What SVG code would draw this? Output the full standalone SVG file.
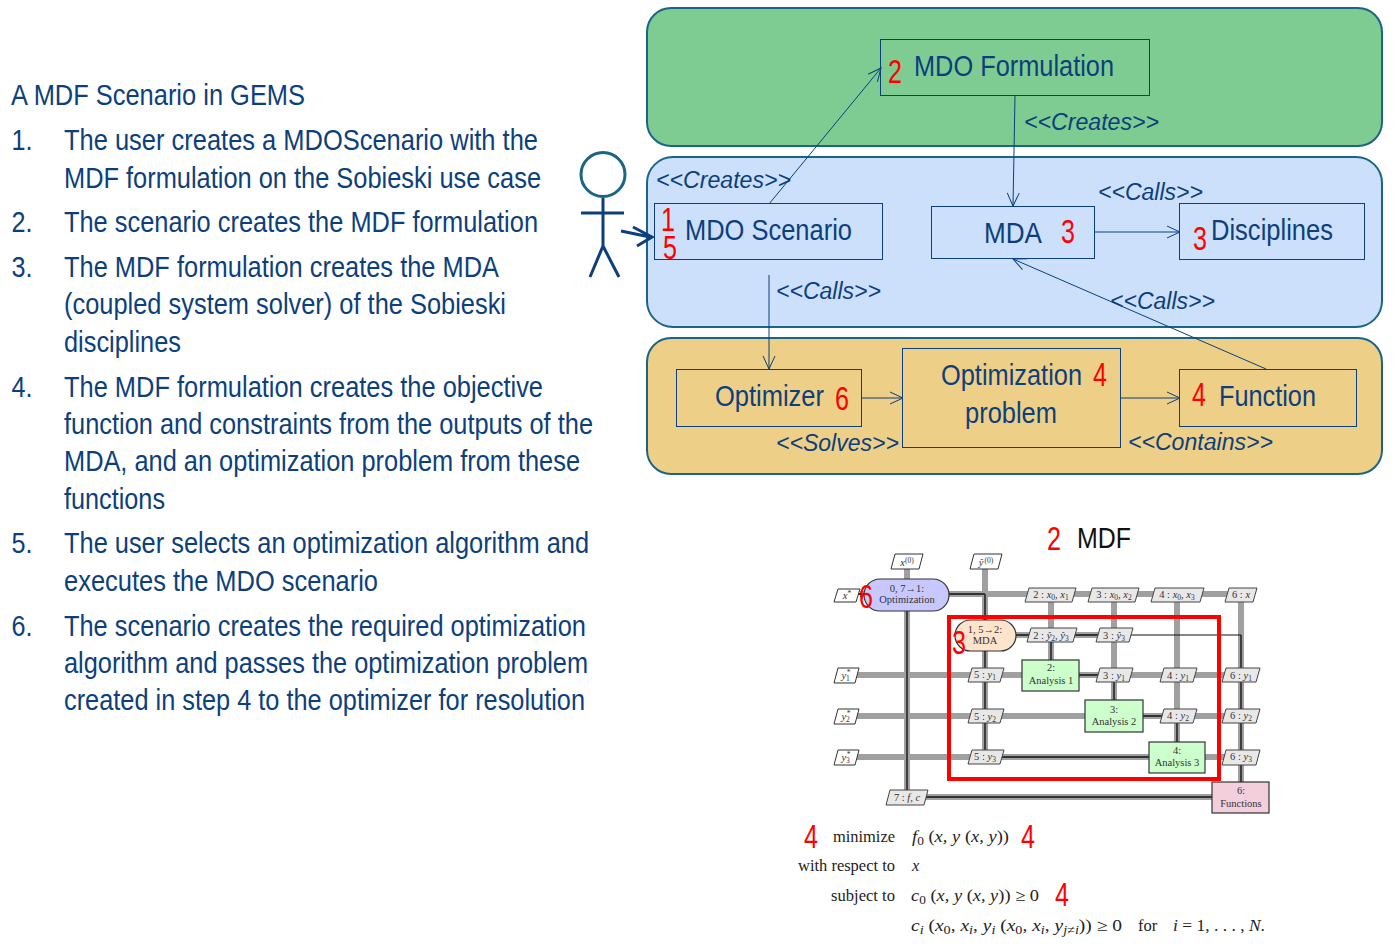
<svg xmlns="http://www.w3.org/2000/svg" width="1396" height="951" viewBox="0 0 1396 951">
<style>
text{font-family:"Liberation Sans",Arial,sans-serif}
.t{font-size:29px;fill:#0c3f7c}
.n{font-size:30px;fill:#0c3f7c}
.c{font-size:23.5px;font-style:italic;fill:#0c3f7c}
.r{font-size:33px;fill:#f00}
.panel{stroke:#1a6486;stroke-width:2}
.box{fill:none;stroke:#0c3f7c;stroke-width:1}
.ln{stroke:#0c3f7c;stroke-width:1;fill:none;marker-end:url(#v)}
.g{stroke:#a0a0a0;stroke-width:6;fill:none}
.k{stroke:#333;stroke-width:1.8;fill:none}
.bl{stroke:#333;stroke-width:1.2}
.lab{stroke:#444;stroke-width:1;fill:#e8e8e8}
.io{stroke:#333;stroke-width:1;fill:#fff}
.m{font-family:"Liberation Serif",serif;font-size:10.5px;fill:#333;text-anchor:middle}
.i{font-style:italic}
.s{font-size:7.5px}
.f{font-family:"Liberation Serif",serif;font-size:16.5px;fill:#222}
</style>
<defs>
<marker id="v" markerWidth="16" markerHeight="14" refX="14" refY="7" orient="auto" markerUnits="userSpaceOnUse"><path d="M1 1L14 7L1 13" fill="none" stroke="#0c3f7c" stroke-width="1"/></marker>
</defs>
<g id="scenario-text">
<text class="t" x="11" y="105" textLength="294" lengthAdjust="spacingAndGlyphs">A MDF Scenario in GEMS</text>
<text class="t" x="11.500" y="150" textLength="21" lengthAdjust="spacingAndGlyphs">1.</text>
<text class="t" x="64" y="150" textLength="474" lengthAdjust="spacingAndGlyphs">The user creates a MDOScenario with the</text>
<text class="t" x="64" y="188" textLength="477" lengthAdjust="spacingAndGlyphs">MDF formulation on the Sobieski use case</text>
<text class="t" x="11.500" y="232" textLength="21" lengthAdjust="spacingAndGlyphs">2.</text>
<text class="t" x="64" y="232" textLength="474" lengthAdjust="spacingAndGlyphs">The scenario creates the MDF formulation</text>
<text class="t" x="11.500" y="277" textLength="21" lengthAdjust="spacingAndGlyphs">3.</text>
<text class="t" x="64" y="277" textLength="435" lengthAdjust="spacingAndGlyphs">The MDF formulation creates the MDA</text>
<text class="t" x="64" y="314" textLength="442" lengthAdjust="spacingAndGlyphs">(coupled system solver) of the Sobieski</text>
<text class="t" x="64" y="352" textLength="117" lengthAdjust="spacingAndGlyphs">disciplines</text>
<text class="t" x="11.500" y="397" textLength="21" lengthAdjust="spacingAndGlyphs">4.</text>
<text class="t" x="64" y="397" textLength="479" lengthAdjust="spacingAndGlyphs">The MDF formulation creates the objective</text>
<text class="t" x="64" y="434" textLength="529" lengthAdjust="spacingAndGlyphs">function and constraints from the outputs of the</text>
<text class="t" x="64" y="471" textLength="516" lengthAdjust="spacingAndGlyphs">MDA, and an optimization problem from these</text>
<text class="t" x="64" y="509" textLength="101" lengthAdjust="spacingAndGlyphs">functions</text>
<text class="t" x="11.500" y="553" textLength="21" lengthAdjust="spacingAndGlyphs">5.</text>
<text class="t" x="64" y="553" textLength="525" lengthAdjust="spacingAndGlyphs">The user selects an optimization algorithm and</text>
<text class="t" x="64" y="591" textLength="314" lengthAdjust="spacingAndGlyphs">executes the MDO scenario</text>
<text class="t" x="11.500" y="636" textLength="21" lengthAdjust="spacingAndGlyphs">6.</text>
<text class="t" x="64" y="636" textLength="522" lengthAdjust="spacingAndGlyphs">The scenario creates the required optimization</text>
<text class="t" x="64" y="673" textLength="524" lengthAdjust="spacingAndGlyphs">algorithm and passes the optimization problem</text>
<text class="t" x="64" y="710" textLength="521" lengthAdjust="spacingAndGlyphs">created in step 4 to the optimizer for resolution</text>
</g>
<g id="panels">
<rect class="panel" x="647" y="8" width="735" height="138" rx="24" fill="#7fcc92"/>
<rect class="panel" x="647" y="157" width="735" height="170" rx="26" fill="#cce0fb"/>
<rect class="panel" x="647" y="338" width="735" height="136" rx="24" fill="#eecf88"/>
</g>
<g id="actor">
<circle cx="603" cy="174.500" r="22" fill="#fff" stroke="#1a6486" stroke-width="3"/>
<path d="M603 198V246M581 213H624M603 246L590 277M603 246L619 277" fill="none" stroke="#0c3f7c" stroke-width="3"/>
<path d="M621 231L650 237M633 227L652 237L637 246" fill="none" stroke="#0c3f7c" stroke-width="3"/>
</g>
<g id="connectors">
<path class="ln" d="M769 204L881 68"/>
<path class="ln" d="M1015 96L1013 206"/>
<path class="ln" d="M1094 232L1180 232"/>
<path class="ln" d="M769 275V369"/>
<path class="ln" d="M1266 369L1013 259"/>
<path class="ln" d="M861 398H903"/>
<path class="ln" d="M1120 398H1180"/>
</g>
<g id="connector-labels">
<text class="c" x="1024" y="130" textLength="135" lengthAdjust="spacingAndGlyphs">&lt;&lt;Creates&gt;&gt;</text>
<text class="c" x="656" y="188" textLength="135" lengthAdjust="spacingAndGlyphs">&lt;&lt;Creates&gt;&gt;</text>
<text class="c" x="1098" y="200" textLength="105" lengthAdjust="spacingAndGlyphs">&lt;&lt;Calls&gt;&gt;</text>
<text class="c" x="776" y="299" textLength="105" lengthAdjust="spacingAndGlyphs">&lt;&lt;Calls&gt;&gt;</text>
<text class="c" x="1110" y="309" textLength="105" lengthAdjust="spacingAndGlyphs">&lt;&lt;Calls&gt;&gt;</text>
<text class="c" x="776" y="451" textLength="123" lengthAdjust="spacingAndGlyphs">&lt;&lt;Solves&gt;&gt;</text>
<text class="c" x="1128" y="450" textLength="145" lengthAdjust="spacingAndGlyphs">&lt;&lt;Contains&gt;&gt;</text>
</g>
<g id="mdo-formulation"><rect class="box" x="880.500" y="39.500" width="269" height="56"/>
<text class="n" x="914" y="76" textLength="200" lengthAdjust="spacingAndGlyphs">MDO Formulation</text>
<text class="r" x="888" y="83" textLength="14" lengthAdjust="spacingAndGlyphs">2</text></g>
<g id="mdo-scenario"><rect class="box" x="654.500" y="203.500" width="228" height="56"/>
<text class="n" x="685" y="240" textLength="167" lengthAdjust="spacingAndGlyphs">MDO Scenario</text>
<text class="r" x="661" y="231" textLength="14" lengthAdjust="spacingAndGlyphs">1</text>
<text class="r" x="663" y="259" textLength="14" lengthAdjust="spacingAndGlyphs">5</text></g>
<g id="mda"><rect class="box" x="931.500" y="206.500" width="163" height="52"/>
<text class="n" x="984" y="243" textLength="58" lengthAdjust="spacingAndGlyphs">MDA</text>
<text class="r" x="1061" y="243" textLength="14" lengthAdjust="spacingAndGlyphs">3</text></g>
<g id="disciplines"><rect class="box" x="1179.500" y="203.500" width="185" height="56"/>
<text class="n" x="1211" y="240" textLength="122" lengthAdjust="spacingAndGlyphs">Disciplines</text>
<text class="r" x="1193" y="250" textLength="14" lengthAdjust="spacingAndGlyphs">3</text></g>
<g id="optimizer"><rect class="box" x="676.500" y="369.500" width="185" height="57"/>
<text class="n" x="715" y="406" textLength="109" lengthAdjust="spacingAndGlyphs">Optimizer</text>
<text class="r" x="835" y="410" textLength="14" lengthAdjust="spacingAndGlyphs">6</text></g>
<g id="optimization-problem"><rect class="box" x="902.500" y="348.500" width="218" height="99"/>
<text class="n" x="941" y="385" textLength="141" lengthAdjust="spacingAndGlyphs">Optimization</text>
<text class="n" x="965" y="423" textLength="92" lengthAdjust="spacingAndGlyphs">problem</text>
<text class="r" x="1093" y="386" textLength="14" lengthAdjust="spacingAndGlyphs">4</text></g>
<g id="function"><rect class="box" x="1179.500" y="369.500" width="177" height="57"/>
<text class="n" x="1219" y="406" textLength="97" lengthAdjust="spacingAndGlyphs">Function</text>
<text class="r" x="1192" y="406" textLength="14" lengthAdjust="spacingAndGlyphs">4</text></g>
<text class="r" x="1047" y="550" textLength="14" lengthAdjust="spacingAndGlyphs">2</text>
<text x="1077" y="548" font-size="30" fill="#111" textLength="54" lengthAdjust="spacingAndGlyphs">MDF</text>
<g id="xdsm-connectors">
<path class="g" d="M907 560V797M985 560V757M1051 594V660M1114 594V700M1177 594V742M1241 594V782M860 594H1241M1016 635H1114M855 675H1241M855 716H1241M855 757H1241M925 797H1212"/>
<path class="k" d="M907 611V797M985 594V757M1051 635V660M1114 675V700M1177 716V742M1241 635V782M949 594H985M1016 635H1114M1079 675H1114M1143 716H1177M985 757H1149M925 797H1212M855 594H864"/>
<path d="M1114 635H1241" stroke="#111" stroke-width="1" fill="none"/>
</g>
<g id="opt"><rect class="bl" x="864" y="579" width="85" height="32" rx="16" fill="#c8c8ff"/><text class="m" x="907" y="592">0, 7→1:</text><text class="m" x="907" y="603">Optimization</text></g>
<g id="mda-block"><rect class="bl" x="955" y="620" width="61" height="31" rx="15.500" fill="#ffe4cc"/><text class="m" x="985" y="633">1, 5→2:</text><text class="m" x="985" y="644">MDA</text></g>
<g id="analysis-1"><rect class="bl" x="1022" y="660" width="57" height="31" fill="#ccffcc"/><text class="m" x="1051" y="671">2:</text><text class="m" x="1051" y="684">Analysis 1</text></g>
<g id="analysis-2"><rect class="bl" x="1085" y="700" width="58" height="32" fill="#ccffcc"/><text class="m" x="1114" y="713">3:</text><text class="m" x="1114" y="725">Analysis 2</text></g>
<g id="analysis-3"><rect class="bl" x="1149" y="742" width="56" height="31" fill="#ccffcc"/><text class="m" x="1177" y="754">4:</text><text class="m" x="1177" y="766">Analysis 3</text></g>
<g id="functions"><rect class="bl" x="1212" y="782" width="57" height="31" fill="#f3cfdc"/><text class="m" x="1241" y="794">6:</text><text class="m" x="1241" y="807">Functions</text></g>
<g id="xdsm-labels">
<polygon class="io" points="891,569 895,554 923,554 919,569"/><text class="m" x="907" y="566"><tspan class="i">x</tspan><tspan class="s" dy="-3">(0)</tspan></text>
<polygon class="io" points="970,569 974,554 1002,554 998,569"/><text class="m" x="986" y="566"><tspan class="i">ŷ</tspan><tspan class="s" dx="1" dy="-3">(0)</tspan></text>
<polygon class="io" points="834,602 838,589 860,589 856,602"/><text class="m" x="847" y="599"><tspan class="i">x</tspan><tspan class="s" dy="-3">*</tspan></text>
<polygon class="lab" points="1025,602 1029,588 1076,588 1072,602"/><text class="m" x="1051" y="598">2 : <tspan class="i">x</tspan><tspan class="s" dy="2">0</tspan><tspan dy="-2">, </tspan><tspan class="i">x</tspan><tspan class="s" dy="2">1</tspan></text>
<polygon class="lab" points="1088,602 1092,588 1139,588 1135,602"/><text class="m" x="1114" y="598">3 : <tspan class="i">x</tspan><tspan class="s" dy="2">0</tspan><tspan dy="-2">, </tspan><tspan class="i">x</tspan><tspan class="s" dy="2">2</tspan></text>
<polygon class="lab" points="1151,602 1155,588 1204,588 1200,602"/><text class="m" x="1177" y="598">4 : <tspan class="i">x</tspan><tspan class="s" dy="2">0</tspan><tspan dy="-2">, </tspan><tspan class="i">x</tspan><tspan class="s" dy="2">3</tspan></text>
<polygon class="lab" points="1225,602 1229,588 1257,588 1253,602"/><text class="m" x="1241" y="598">6 : <tspan class="i">x</tspan></text>
<polygon class="lab" points="1027,642 1031,628 1077,628 1073,642"/><text class="m" x="1051" y="639">2 : <tspan class="i">ŷ</tspan><tspan class="s" dy="2">2</tspan><tspan dy="-2">, </tspan><tspan class="i">ŷ</tspan><tspan class="s" dy="2">3</tspan></text>
<polygon class="lab" points="1096,642 1100,628 1133,628 1129,642"/><text class="m" x="1114" y="639">3 : <tspan class="i">ŷ</tspan><tspan class="s" dy="2">3</tspan></text>
<polygon class="lab" points="968,682 972,668 1004,668 1000,682"/><text class="m" x="985" y="678">5 : <tspan class="i">y</tspan><tspan class="s" dy="2">1</tspan></text>
<polygon class="lab" points="1096,682 1100,668 1133,668 1129,682"/><text class="m" x="1114" y="679">3 : <tspan class="i">y</tspan><tspan class="s" dy="2">1</tspan></text>
<polygon class="lab" points="1160,682 1164,668 1197,668 1193,682"/><text class="m" x="1178" y="679">4 : <tspan class="i">y</tspan><tspan class="s" dy="2">1</tspan></text>
<polygon class="lab" points="1222,682 1226,668 1260,668 1256,682"/><text class="m" x="1241" y="679">6 : <tspan class="i">y</tspan><tspan class="s" dy="2">1</tspan></text>
<polygon class="io" points="834,683 838,668 859,668 855,683"/><text class="m" x="846" y="679"><tspan class="i">y</tspan><tspan class="s" dy="2">1</tspan><tspan class="s" dx="-3" dy="-6">*</tspan></text>
<polygon class="io" points="834,724 838,709 859,709 855,724"/><text class="m" x="846" y="720"><tspan class="i">y</tspan><tspan class="s" dy="2">2</tspan><tspan class="s" dx="-3" dy="-6">*</tspan></text>
<polygon class="io" points="834,765 838,750 859,750 855,765"/><text class="m" x="846" y="761"><tspan class="i">y</tspan><tspan class="s" dy="2">3</tspan><tspan class="s" dx="-3" dy="-6">*</tspan></text>
<polygon class="lab" points="968,723 972,709 1004,709 1000,723"/><text class="m" x="985" y="720">5 : <tspan class="i">y</tspan><tspan class="s" dy="2">2</tspan></text>
<polygon class="lab" points="968,764 972,750 1004,750 1000,764"/><text class="m" x="985" y="760">5 : <tspan class="i">y</tspan><tspan class="s" dy="2">3</tspan></text>
<polygon class="lab" points="1160,723 1164,709 1197,709 1193,723"/><text class="m" x="1178" y="719">4 : <tspan class="i">y</tspan><tspan class="s" dy="2">2</tspan></text>
<polygon class="lab" points="1222,723 1226,709 1260,709 1256,723"/><text class="m" x="1241" y="719">6 : <tspan class="i">y</tspan><tspan class="s" dy="2">2</tspan></text>
<polygon class="lab" points="1222,765 1226,750 1260,750 1256,765"/><text class="m" x="1241" y="760">6 : <tspan class="i">y</tspan><tspan class="s" dy="2">3</tspan></text>
<polygon class="lab" points="886,805 890,790 928,790 924,805"/><text class="m" x="907" y="801">7 : <tspan class="i">f, c</tspan></text>
</g>
<rect id="mda-highlight" x="949" y="617" width="270" height="162" fill="none" stroke="#f00" stroke-width="4"/>
<g id="xdsm-numbers">
<text class="r" x="859" y="608" textLength="14" lengthAdjust="spacingAndGlyphs">6</text>
<text class="r" x="952" y="654" textLength="14" lengthAdjust="spacingAndGlyphs">3</text>
</g>
<g id="formula">
<text class="f" x="833" y="842" textLength="62" lengthAdjust="spacingAndGlyphs">minimize</text>
<text class="f" x="798" y="871" textLength="97" lengthAdjust="spacingAndGlyphs">with respect to</text>
<text class="f" x="831" y="901" textLength="64" lengthAdjust="spacingAndGlyphs">subject to</text>
<text class="f" x="912" y="842" textLength="97" lengthAdjust="spacingAndGlyphs"><tspan class="i">f</tspan><tspan font-size="12" dy="3">0</tspan><tspan dy="-3"> (</tspan><tspan class="i">x, y</tspan> (<tspan class="i">x, y</tspan>))</text>
<text class="f" x="912" y="871" font-style="italic">x</text>
<text class="f" x="911" y="901" textLength="128" lengthAdjust="spacingAndGlyphs"><tspan class="i">c</tspan><tspan font-size="12" dy="3">0</tspan><tspan dy="-3"> (</tspan><tspan class="i">x, y</tspan> (<tspan class="i">x, y</tspan>)) ≥ 0</text>
<text class="f" x="911" y="931" textLength="211" lengthAdjust="spacingAndGlyphs"><tspan class="i">c</tspan><tspan font-size="12" class="i" dy="3">i</tspan><tspan dy="-3"> (</tspan><tspan class="i">x</tspan><tspan font-size="12" dy="3">0</tspan><tspan dy="-3">, </tspan><tspan class="i">x</tspan><tspan font-size="12" class="i" dy="3">i</tspan><tspan dy="-3">, </tspan><tspan class="i">y</tspan><tspan font-size="12" class="i" dy="3">i</tspan><tspan dy="-3"> (</tspan><tspan class="i">x</tspan><tspan font-size="12" dy="3">0</tspan><tspan dy="-3">, </tspan><tspan class="i">x</tspan><tspan font-size="12" class="i" dy="3">i</tspan><tspan dy="-3">, </tspan><tspan class="i">y</tspan><tspan font-size="12" class="i" dy="3">j≠i</tspan><tspan dy="-3">)) ≥ 0</tspan></text>
<text class="f" x="1138" y="931">for</text>
<text class="f" x="1173" y="931" textLength="92" lengthAdjust="spacingAndGlyphs"><tspan class="i">i</tspan> = 1, . . . , <tspan class="i">N</tspan>.</text>
<text class="r" x="804" y="848" textLength="14" lengthAdjust="spacingAndGlyphs">4</text>
<text class="r" x="1021" y="848" textLength="14" lengthAdjust="spacingAndGlyphs">4</text>
<text class="r" x="1055" y="906" textLength="14" lengthAdjust="spacingAndGlyphs">4</text>
</g>
</svg>
